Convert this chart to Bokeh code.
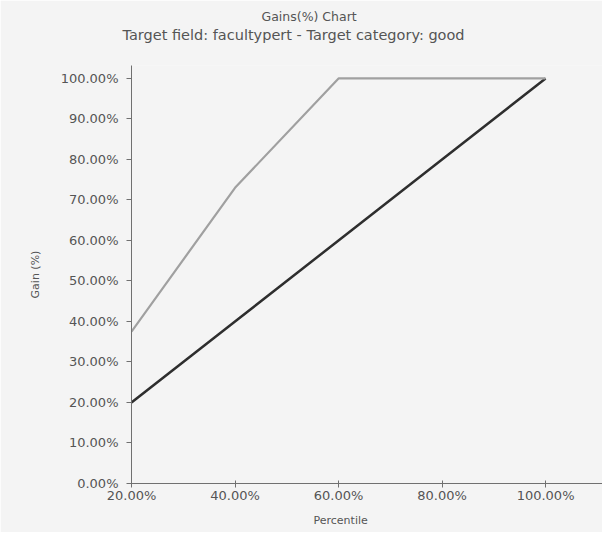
from bokeh.plotting import figure
from bokeh.models import FixedTicker, PrintfTickFormatter, Title, Range1d
from bokeh.embed import file_html
from bokeh.resources import INLINE

percentile = [20, 40, 60, 80, 100]
gain = [37.5, 73.0, 100.0, 100.0, 100.0]
baseline = [20, 40, 60, 80, 100]
x_ticks = [20, 40, 60, 80, 100]
y_ticks = [0, 10, 20, 30, 40, 50, 60, 70, 80, 90, 100]

FONT = "DejaVu Sans"
TXT = "#555555"
BG = "#f4f4f4"

p = figure(width=602, height=532, output_backend="svg", toolbar_location=None,
           x_range=Range1d(20, 111.0), y_range=Range1d(0, 103.2),
           title="Gains(%) Chart",
           min_border_left=131, min_border_right=0, min_border_bottom=49, min_border_top=65,
           background_fill_color=BG, border_fill_color=BG, outline_line_color=None)

p.title.align = "left"
p.title.offset = 130
p.title.text_font = FONT
p.title.text_font_size = "12.5px"
p.title.text_font_style = "normal"
p.title.text_color = TXT
p.title.standoff = -44

sub = Title(text="Target field: facultypert - Target category: good", align="left", offset=-9,
            text_font=FONT, text_font_size="14.5px", text_font_style="normal",
            text_color=TXT, standoff=46)
p.add_layout(sub, "above")

p.line(percentile, baseline, line_color="#2e2e2e", line_width=2.5)
p.line(percentile, gain, line_color="#a0a0a0", line_width=2.2)

p.xgrid.visible = False
p.ygrid.visible = False

for ax in (p.xaxis[0], p.yaxis[0]):
    ax.axis_line_color = "#707070"
    ax.major_tick_line_color = "#707070"
    ax.minor_tick_line_color = None
    ax.major_label_text_font = FONT
    ax.major_label_text_font_size = "13px"
    ax.major_label_text_color = TXT
    ax.axis_label_text_font = FONT
    ax.axis_label_text_font_size = "11px"
    ax.axis_label_text_font_style = "normal"
    ax.axis_label_text_color = TXT
    ax.formatter = PrintfTickFormatter(format="%.2f%%")

p.xaxis.major_tick_in = 3
p.xaxis.major_tick_out = 4
p.yaxis.major_tick_in = 0
p.yaxis.major_tick_out = 5
p.xaxis.ticker = FixedTicker(ticks=x_ticks)
p.yaxis.ticker = FixedTicker(ticks=y_ticks)
p.yaxis.axis_label = "Gain (%)"
p.xaxis.major_label_standoff = 0
p.yaxis.major_label_standoff = 8
p.yaxis.axis_label_standoff = 16

xlab = Title(text="Percentile", align="left", offset=182, text_font=FONT,
             text_font_size="11px", text_font_style="normal", text_color=TXT,
             standoff=12, vertical_align="bottom")
p.add_layout(xlab, "below")

open("out.html", "w").write(file_html(p, INLINE))
